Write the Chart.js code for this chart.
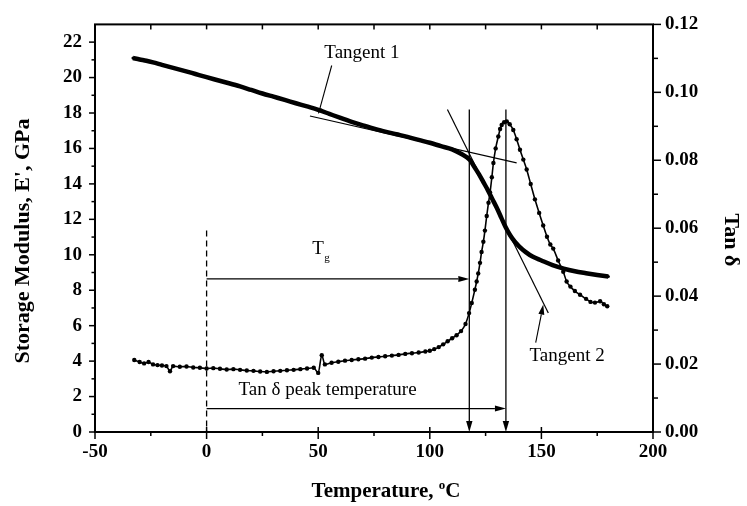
<!DOCTYPE html>
<html>
<head>
<meta charset="utf-8">
<script src="https://cdn.jsdelivr.net/npm/chart.js@4.4.1/dist/chart.umd.min.js"></script>
<style>
html,body{margin:0;padding:0;background:#fff;}
#c{display:block;}
</style>
</head>
<body>
<canvas id="c" width="747" height="506"></canvas>
<script>
// ---- Data ----
const modT = [-33,-30,-27,-24,-20,-15,-10,-5,0,5,10,15,20,25,30,35,40,45,50,55,60,65,70,75,80,85,90,95,100,105,110,114,118,120,122,124,126,128,130,132,134,136,138,140,143,146,150,155,160,165,170,175,180];
const modE = [21.1,21.02,20.95,20.86,20.72,20.55,20.38,20.2,20.02,19.85,19.68,19.5,19.3,19.1,18.92,18.74,18.55,18.37,18.18,17.95,17.72,17.5,17.3,17.12,16.95,16.8,16.65,16.48,16.32,16.13,15.95,15.7,15.35,14.95,14.55,14.1,13.65,13.15,12.65,12.1,11.55,11.1,10.75,10.48,10.15,9.9,9.68,9.42,9.22,9.07,8.96,8.86,8.77];

const tanT = [-32.4,-30,-28,-26,-24,-22,-20,-18,-16.4,-15,-12,-9,-6,-3,0,3,6,9,12,15,18,21,24,27,30,33,36,39,42,45,48,50,51.6,53,56,59,62,65,68,71,74,77,80,83,86,89,92,95,98,100,102,104,106,108,110,112,114,116,117.6,118.8,120.2,121,121.7,122.5,123.2,124,124.7,125.5,126.3,127,127.8,128.5,129.5,130.7,131.5,132.2,133.3,134.5,135.8,137.4,138.9,140.4,141.9,143.4,145.2,147.1,149,150.8,152.5,154,155.3,157.5,159.8,161.3,163,165,167.3,170,172,174,176.3,178,179.5];
const tanD = [0.0212,0.0206,0.0202,0.0206,0.0199,0.0197,0.0196,0.0194,0.0179,0.0194,0.0192,0.0193,0.019,0.0189,0.0187,0.0188,0.0186,0.0184,0.0185,0.0183,0.0181,0.018,0.0178,0.0177,0.0179,0.018,0.0182,0.0183,0.0185,0.0187,0.0189,0.0174,0.0226,0.0199,0.0204,0.0207,0.021,0.0212,0.0214,0.0216,0.0219,0.0221,0.0223,0.0225,0.0227,0.023,0.0232,0.0234,0.0237,0.0239,0.0244,0.025,0.0258,0.0267,0.0276,0.0285,0.0297,0.0318,0.035,0.038,0.0419,0.0443,0.0467,0.0498,0.053,0.056,0.0593,0.0636,0.0675,0.0705,0.075,0.0792,0.0835,0.087,0.0892,0.0904,0.0912,0.0914,0.0906,0.0889,0.0862,0.0831,0.0802,0.0773,0.073,0.0685,0.0645,0.0608,0.0575,0.0552,0.054,0.0505,0.0472,0.0443,0.0428,0.0415,0.0404,0.0392,0.0383,0.0381,0.0385,0.0376,0.037];

const xTicks = [-50,0,50,100,150,200];
const xMinor = [-25,25,75,125,175];
const yTicks = [0,2,4,6,8,10,12,14,16,18,20,22];
const yMinor = [1,3,5,7,9,11,13,15,17,19,21];
const y2Ticks = [0,0.02,0.04,0.06,0.08,0.10,0.12];
const y2Minor = [0.01,0.03,0.05,0.07,0.09,0.11];

// annotation values (temperature, modulus)
const tangent1 = [[46.3,17.83],[138.9,15.19]];
const tangent2 = [[107.9,18.2],[153.1,6.72]];
const tgTemp = 117.7, peakTemp = 134.1, vTop = 18.2;
const tgArrowE = 8.64, peakArrowE = 1.32;
const dashTop = 11.37;
const ptr1 = [[56.05,20.68],[50.05,17.94]];
const ptr2 = [[147.45,5.04],[150.85,7.19]];

const FONT = '"Liberation Serif", "Times New Roman", serif';

const annot = {
  id: 'annot',
  afterDatasetsDraw(chart) {
    const ctx = chart.ctx;
    const xs = chart.scales.x, ys = chart.scales.y, y2 = chart.scales.y2;
    const X = v => xs.getPixelForValue(v);
    const Y = v => ys.getPixelForValue(v);
    const Y2 = v => y2.getPixelForValue(v);
    const a = chart.chartArea;
    ctx.save();
    ctx.strokeStyle = '#000';
    ctx.fillStyle = '#000';
    ctx.lineCap = 'butt';

    function line(x1,y1,x2,y2,w){
      ctx.lineWidth = w||1;
      ctx.beginPath(); ctx.moveTo(x1,y1); ctx.lineTo(x2,y2); ctx.stroke();
    }
    function arrow(x1,y1,x2,y2,len,hw,w){
      len = len||11; hw = hw||3.2;
      const ang = Math.atan2(y2-y1,x2-x1);
      const bx = x2 - len*Math.cos(ang), by = y2 - len*Math.sin(ang);
      line(x1,y1,bx,by,w||1.2);
      ctx.beginPath();
      ctx.moveTo(x2,y2);
      ctx.lineTo(bx + hw*Math.sin(ang), by - hw*Math.cos(ang));
      ctx.lineTo(bx - hw*Math.sin(ang), by + hw*Math.cos(ang));
      ctx.closePath(); ctx.fill();
    }

    // tangent lines
    line(X(tangent1[0][0]),Y(tangent1[0][1]),X(tangent1[1][0]),Y(tangent1[1][1]),1.2);
    line(X(tangent2[0][0]),Y(tangent2[0][1]),X(tangent2[1][0]),Y(tangent2[1][1]),1.2);
    // vertical lines with arrows down to axis
    arrow(X(tgTemp),Y(vTop),X(tgTemp),Y(0),11,3.2,1.3);
    arrow(X(peakTemp),Y(vTop),X(peakTemp),Y(0),11,3.2,1.3);
    // horizontal arrows
    arrow(X(0),Y(tgArrowE),X(tgTemp),Y(tgArrowE),11,3,1.2);
    arrow(X(0),Y(peakArrowE),X(peakTemp),Y(peakArrowE),11,3,1.2);
    // dashed vertical line at 0
    ctx.setLineDash([6,4]);
    line(X(0),Y(dashTop),X(0),Y(0),1.3);
    ctx.setLineDash([]);
    // pointers
    arrow(X(ptr1[0][0]),Y(ptr1[0][1]),X(ptr1[1][0]),Y(ptr1[1][1]),6,2.2,1.1);
    arrow(X(ptr2[0][0]),Y(ptr2[0][1]),X(ptr2[1][0]),Y(ptr2[1][1]),10,3,1.1);

    // labels
    ctx.font = '19px ' + FONT;
    ctx.textAlign = 'center'; ctx.textBaseline = 'middle';
    ctx.fillText('Tangent 1', X(69.6), Y(21.38));
    ctx.fillText('Tangent 2', X(161.5), Y(4.3));
    ctx.fillText('Tan \u03b4 peak temperature', X(54.2), Y(2.35));
    ctx.fillText('T', X(49.9), Y(10.33));
    ctx.font = '11px ' + FONT;
    ctx.fillText('g', X(49.9)+9, Y(10.33)+9);

    // frame
    ctx.lineWidth = 2;
    ctx.strokeRect(a.left, a.top, a.right-a.left, a.bottom-a.top);
    // bottom ticks
    xTicks.forEach(v=>{ const px=X(v); line(px,a.bottom-5,px,a.bottom+7,1.5); });
    xMinor.forEach(v=>{ const px=X(v); line(px,a.bottom,px,a.bottom+4,1.5); });
    // top ticks (inward)
    xMinor.concat(xTicks.slice(1,-1)).forEach(v=>{ const px=X(v); line(px,a.top,px,a.top+5,1.5); });
    // left ticks
    yTicks.forEach(v=>{ const py=Y(v); line(a.left-6,py,a.left,py,1.5); });
    yMinor.forEach(v=>{ const py=Y(v); line(a.left-3.5,py,a.left,py,1.5); });
    // right ticks
    y2Ticks.forEach(v=>{ const py=Y2(v); line(a.right,py,a.right+8,py,1.5); });
    y2Minor.forEach(v=>{ const py=Y2(v); line(a.right,py,a.right+5,py,1.5); });

    // axis titles
    ctx.textAlign = 'center'; ctx.textBaseline = 'middle';
    ctx.font = 'bold 22px ' + FONT;
    ctx.save();
    ctx.translate(23, 241); ctx.rotate(-Math.PI/2);
    ctx.fillText("Storage Modulus, E', GPa", 0, 0);
    ctx.restore();
    ctx.save();
    ctx.translate(731, 240); ctx.rotate(Math.PI/2);
    ctx.fillText('Tan \u03b4', 0, 0);
    ctx.restore();
    // bottom title with superscript o
    ctx.textBaseline = 'alphabetic'; ctx.textAlign = 'left';
    const t1 = 'Temperature, ', t3 = 'C';
    ctx.font = 'bold 21px ' + FONT;
    const w1 = ctx.measureText(t1).width, w3 = ctx.measureText(t3).width;
    ctx.font = 'bold 13px ' + FONT;
    const w2 = ctx.measureText('o').width;
    const total = w1 + w2 + w3;
    let sx = 386 - total/2;
    const base = 497;
    ctx.font = 'bold 21px ' + FONT;
    ctx.fillText(t1, sx, base);
    ctx.font = 'bold 13px ' + FONT;
    ctx.fillText('o', sx + w1, base - 8);
    ctx.font = 'bold 21px ' + FONT;
    ctx.fillText(t3, sx + w1 + w2, base);
    ctx.restore();
  }
};

const tickFont = {family: FONT, size: 19, weight: 'bold'};

new Chart(document.getElementById('c'), {
  type: 'line',
  data: {
    datasets: [
      {
        label: "E'",
        data: modT.map((t,i)=>({x:t, y:modE[i]})),
        yAxisID: 'y',
        borderColor: '#000',
        backgroundColor: '#000',
        borderWidth: 4.5,
        pointRadius: 1.5,
        pointBorderWidth: 0,
        cubicInterpolationMode: 'monotone',
        fill: false
      },
      {
        label: 'Tan delta',
        data: tanT.map((t,i)=>({x:t, y:tanD[i]})),
        yAxisID: 'y2',
        borderColor: '#000',
        backgroundColor: '#000',
        borderWidth: 1.6,
        pointRadius: 2.2,
        pointBorderWidth: 0,
        cubicInterpolationMode: 'monotone',
        fill: false
      }
    ]
  },
  options: {
    responsive: false,
    animation: false,
    events: [],
    layout: {padding: {top: 20, left: 0, right: 0, bottom: 0}},
    plugins: {legend: {display: false}, tooltip: {enabled: false}},
    scales: {
      x: {
        type: 'linear', position: 'bottom', min: -50, max: 200,
        grid: {display: false, drawTicks: false},
        border: {display: false},
        ticks: {font: tickFont, color: '#000', padding: 9, maxRotation: 0},
        afterBuildTicks: s => { s.ticks = xTicks.map(v => ({value: v})); },
        afterFit: s => { s.height = 74; }
      },
      y: {
        type: 'linear', position: 'left', min: 0, max: 23,
        grid: {display: false, drawTicks: false},
        border: {display: false},
        ticks: {font: tickFont, color: '#000', padding: 13},
        afterBuildTicks: s => { s.ticks = yTicks.map(v => ({value: v})); },
        afterFit: s => { s.width = 95; }
      },
      y2: {
        type: 'linear', position: 'right', min: 0, max: 0.12,
        grid: {display: false, drawTicks: false},
        border: {display: false},
        ticks: {font: tickFont, color: '#000', padding: 12, callback: v => Number(v).toFixed(2)},
        afterBuildTicks: s => { s.ticks = y2Ticks.map(v => ({value: v})); },
        afterFit: s => { s.width = 94; }
      }
    }
  },
  plugins: [annot]
});
</script>
</body>
</html>
